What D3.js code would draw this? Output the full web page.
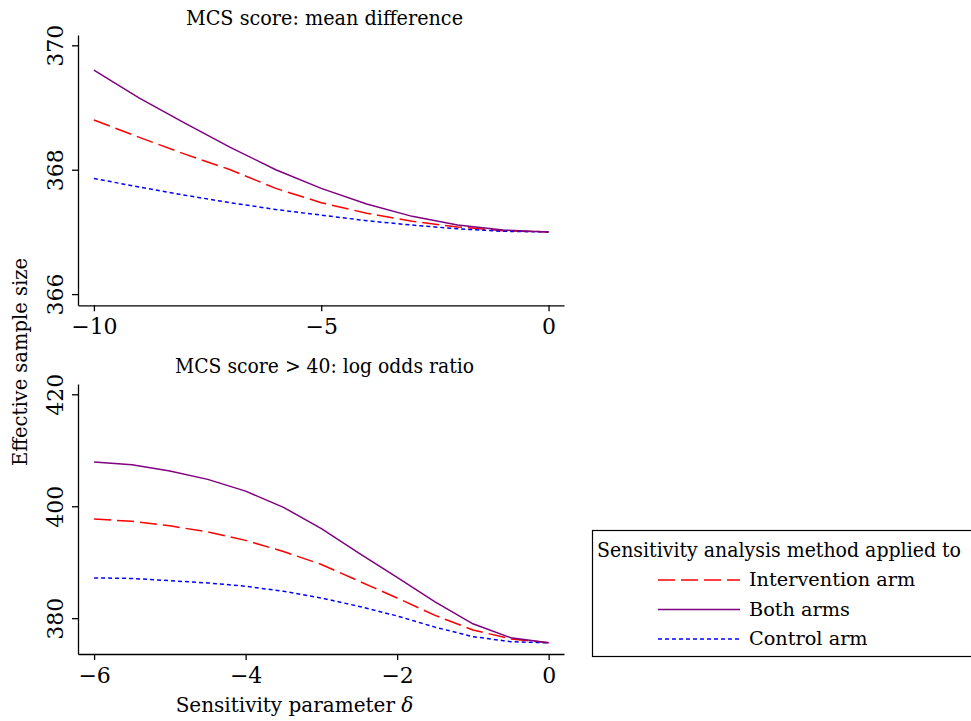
<!DOCTYPE html>
<html><head><meta charset="utf-8">
<script src="https://cdn.jsdelivr.net/npm/d3@7"></script>
<style>body{margin:0;background:#fff}svg{display:block}text{font-family:"DejaVu Serif",serif;fill:#000}</style>
</head><body>
<script>
// ---- data ----
const deltaTop = [-10,-9,-8,-7,-6,-5,-4,-3,-2,-1,0];
const topIntervention = [368.80,368.52,368.25,368.00,367.70,367.47,367.30,367.17,367.08,367.02,367.00];
const topBoth         = [369.60,369.15,368.75,368.36,368.00,367.70,367.45,367.25,367.11,367.03,367.00];
const topControl      = [367.86,367.72,367.59,367.47,367.36,367.27,367.18,367.11,367.05,367.01,367.00];

const deltaBottom = [-6,-5.5,-5,-4.5,-4,-3.5,-3,-2.5,-2,-1.5,-1,-0.5,0];
const botIntervention = [397.7,397.3,396.5,395.4,393.9,391.9,389.6,386.6,383.6,380.5,377.9,376.3,375.6];
const botBoth         = [407.9,407.4,406.3,404.8,402.7,399.8,396.0,391.6,387.3,382.9,379.0,376.5,375.6];
const botControl      = [387.2,387.1,386.7,386.3,385.7,384.8,383.6,382.1,380.4,378.4,376.7,375.8,375.6];

const topXTicks = [-10,-5,0];
const topYTicks = [366,368,370];
const botXTicks = [-6,-4,-2,0];
const botYTicks = [380,400,420];

const titles = ["MCS score: mean difference","MCS score > 40: log odds ratio"];
const yTitle = "Effective sample size";
const xTitle = "Sensitivity parameter ";
const legendTitle = "Sensitivity analysis method applied to";
const seriesNames = ["Intervention arm","Both arms","Control arm"];
const seriesColors = ["#ff0000","#800080","#0000ff"];
const seriesDash = ["17,6",null,"4,3"];

const fmt = d => (d<0 ? "\u2212"+Math.abs(d) : String(d));

const W=971,H=721;
const svg = d3.select("body").append("svg").attr("width",W).attr("height",H);

const panels = [
  {x:d3.scaleLinear().domain([-10.35,0.34]).range([78,564]),
   y:d3.scaleLinear().domain([365.82,370.166]).range([305.3,35]),
   xs:deltaTop, series:[topIntervention,topBoth,topControl], xt:topXTicks, yt:topYTicks,
   title:titles[0], titleY:25, titleX:324.5, titleLen:277},
  {x:d3.scaleLinear().domain([-6.2125,0.2026]).range([78,564]),
   y:d3.scaleLinear().domain([373.6,421.84]).range([654,384]),
   xs:deltaBottom, series:[botIntervention,botBoth,botControl], xt:botXTicks, yt:botYTicks,
   title:titles[1], titleY:373, titleX:324.5, titleLen:299}
];

panels.forEach(p=>{
  const g = svg.append("g");
  const [x0,x1]=p.x.range(), [y0,y1]=p.y.range();
  // title
  g.append("text").attr("x",p.titleX).attr("y",p.titleY).attr("text-anchor","middle")
    .attr("font-size",20).attr("textLength",p.titleLen).attr("lengthAdjust","spacingAndGlyphs").text(p.title);
  // x axis
  const xa = g.append("g").attr("transform",`translate(0,${y0})`)
    .call(d3.axisBottom(p.x).tickValues(p.xt).tickSize(6).tickSizeOuter(0).tickPadding(7).tickFormat(fmt));
  xa.selectAll("text").attr("font-size",22).attr("font-family","DejaVu Serif");
  // y axis
  const ya = g.append("g").attr("transform",`translate(${x0},0)`)
    .call(d3.axisLeft(p.y).tickValues(p.yt).tickSize(6).tickSizeOuter(0).tickFormat(""));
  ya.selectAll(".tick").append("text").attr("transform","rotate(-90)").attr("x",0).attr("y",-15)
    .attr("text-anchor","middle").attr("font-size",22).attr("font-family","DejaVu Serif").style("fill","#000")
    .text(d=>fmt(d));
  [xa,ya].forEach(a=>{a.selectAll("path,line").attr("stroke","#000").attr("stroke-width",1.3);});
  // lines
  const line = d3.line().x((d,i)=>p.x(p.xs[i])).y(d=>p.y(d));
  [0,2,1].forEach(k=>{
    g.append("path").datum(p.series[k]).attr("d",line).attr("fill","none")
      .attr("stroke",seriesColors[k]).attr("stroke-width",1.5)
      .attr("stroke-dasharray",seriesDash[k]);
  });
});

// y title
svg.append("text").attr("transform","translate(27,362) rotate(-90)").attr("text-anchor","middle")
  .attr("font-size",20).attr("textLength",208).attr("lengthAdjust","spacingAndGlyphs").text(yTitle);
// x title
const xt = svg.append("text").attr("x",294.5).attr("y",712).attr("text-anchor","middle").attr("font-size",20);
xt.append("tspan").text(xTitle);
xt.append("tspan").attr("font-style","italic").text("\u03B4");

// legend
const lg = svg.append("g");
lg.append("rect").attr("x",592.5).attr("y",530.5).attr("width",400).attr("height",126)
  .attr("fill","#fff").attr("stroke","#000").attr("stroke-width",1.2);
lg.append("text").attr("x",597).attr("y",557).attr("font-size",19.5)
  .attr("textLength",364).attr("lengthAdjust","spacingAndGlyphs").text(legendTitle);
seriesNames.forEach((n,i)=>{
  const yy = 580 + i*29.5;
  lg.append("line").attr("x1",658).attr("x2",740).attr("y1",yy).attr("y2",yy)
    .attr("stroke",seriesColors[i]).attr("stroke-width",1.5).attr("stroke-dasharray",seriesDash[i]);
  lg.append("text").attr("x",749).attr("y",yy+6).attr("font-size",19.3).text(n);
});
</script>
</body></html>
